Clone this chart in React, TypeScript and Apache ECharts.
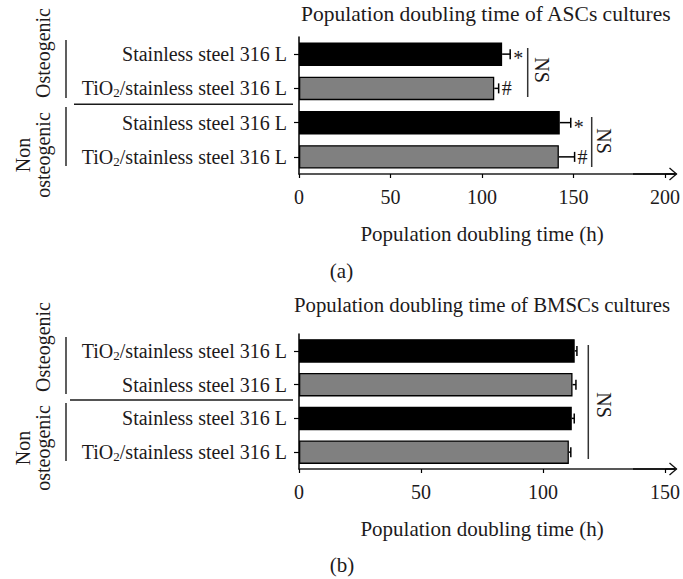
import React, { useEffect, useRef } from "react";
import * as echarts from "echarts";

// ---------- data ----------
const titleA = "Population doubling time of ASCs cultures";
const titleB = "Population doubling time of BMSCs cultures";
const axisNameX = "Population doubling time (h)";
const panelLabels = ["(a)", "(b)"];
const groupLabels = ["Osteogenic", "Non\nosteogenic"];

const categoriesA = [
  "Stainless steel 316 L",
  "TiO2/stainless steel 316 L",
  "Stainless steel 316 L",
  "TiO2/stainless steel 316 L",
];
const meansA = [111, 106.7, 142.5, 142];
const errorsA = [4.4, 2.4, 6, 8.6];
const marksA = ["*", "#", "*", "#"];
const xMaxA = 200;

const categoriesB = [
  "TiO2/stainless steel 316 L",
  "Stainless steel 316 L",
  "Stainless steel 316 L",
  "TiO2/stainless steel 316 L",
];
const meansB = [113, 112.1, 111.8, 110.6];
const errorsB = [0.9, 1.4, 1.0, 0.8];
const marksB = ["", "", "", ""];
const xMaxB = 150;
const xInterval = 50;
const nsLabel = "NS";

// ---------- styles ----------
const FONT = '"Liberation Serif", "Times New Roman", serif';
const TXT = "#1d1a1b";
const barColors = ["#000000", "#808080", "#000000", "#808080"];

function catFormatter(v: string) {
  if (v.startsWith("TiO2")) {
    return "{n|TiO}{s|2}{n|" + v.slice(4) + "}";
  }
  return "{n|" + v + "}";
}

function makeErrorRender(marks: string[]) {
  return function (params: any, api: any) {
    const mean = api.value(0);
    const idx = api.value(1);
    const err = api.value(2);
    const s = api.coord([mean, idx]);
    const e = api.coord([mean + err, idx]);
    const mark = marks[params.dataIndex] || "";
    const children: any[] = [
      {
        type: "line",
        shape: { x1: s[0], y1: s[1], x2: e[0], y2: e[1] },
        style: { stroke: "#000", lineWidth: 1.5 },
      },
      {
        type: "line",
        shape: { x1: e[0], y1: e[1] - 5, x2: e[0], y2: e[1] + 5 },
        style: { stroke: "#000", lineWidth: 1.5 },
      },
    ];
    if (mark) {
      children.push({
        type: "text",
        x: e[0] + 3,
        y: e[1] + (mark === "*" ? 4 : 0),
        style: {
          text: mark,
          fontSize: 20,
          fontFamily: FONT,
          fill: TXT,
          align: "left",
          verticalAlign: "middle",
          textAlign: "left",
          textVerticalAlign: "middle",
        },
      });
    }
    return { type: "group", children };
  };
}

function yAxisCfg(cats: string[], gridIndex: number) {
  return {
    type: "category",
    gridIndex,
    data: cats,
    inverse: true,
    axisLine: { show: true, lineStyle: { color: "#000", width: 1.5 } },
    axisTick: { show: true, alignWithLabel: true, length: 5, lineStyle: { color: "#000", width: 1.2 } },
    axisLabel: {
      margin: 12,
      formatter: catFormatter,
      rich: {
        n: { fontSize: 20, fontFamily: FONT, color: TXT, lineHeight: 22 },
        s: { fontSize: 13, fontFamily: FONT, color: TXT, lineHeight: 8, verticalAlign: "bottom" },
      },
    },
    splitLine: { show: false },
  };
}

function xAxisCfg(max: number, gridIndex: number) {
  return {
    type: "value",
    gridIndex,
    min: 0,
    max,
    interval: xInterval,
    name: axisNameX,
    nameLocation: "middle",
    nameGap: 49,
    nameTextStyle: { fontSize: 21, fontFamily: FONT, color: TXT },
    axisLine: { show: true, lineStyle: { color: "#222", width: 1.5 } },
    axisTick: { show: true, length: 4, lineStyle: { color: "#000", width: 1.2 } },
    axisLabel: { fontSize: 20, fontFamily: FONT, color: TXT, margin: 13 },
    splitLine: { show: false },
  };
}

function barSeries(means: number[], idx: number) {
  return {
    type: "bar",
    xAxisIndex: idx,
    yAxisIndex: idx,
    barWidth: 23.5,
    data: means.map((v, i) => ({
      value: v,
      itemStyle: { color: barColors[i], borderColor: "#000", borderWidth: 1.3 },
    })),
  };
}

function errSeries(means: number[], errs: number[], marks: string[], idx: number) {
  return {
    type: "custom",
    xAxisIndex: idx,
    yAxisIndex: idx,
    encode: { x: 0, y: 1 },
    data: means.map((m, i) => [m, i, errs[i]]),
    renderItem: makeErrorRender(marks),
    z: 5,
  };
}

function vline(x: number, y1: number, y2: number, color = "#4d4d4d", w = 1.8) {
  return { type: "line", shape: { x1: x, y1, x2: x, y2 }, style: { stroke: color, lineWidth: w } };
}
function hline(y: number, x1: number, x2: number, color = "#1a1a1a", w = 1.5) {
  return { type: "line", shape: { x1, y1: y, x2, y2: y }, style: { stroke: color, lineWidth: w } };
}
function txt(text: string, x: number, y: number, size: number, rotation = 0, lineHeight?: number) {
  return {
    type: "text",
    x,
    y,
    rotation,
    style: {
      text,
      fontSize: size,
      fontFamily: FONT,
      fill: TXT,
      lineHeight: lineHeight || size,
      align: "center",
      verticalAlign: "middle",
      textAlign: "center",
      textVerticalAlign: "middle",
    },
  };
}
function arrow(xTip: number, y: number) {
  return [
    hline(y, 633, xTip, "#111", 2),
    {
      type: "polyline",
      shape: { points: [[xTip - 7, y - 6], [xTip, y], [xTip - 7, y + 6]] },
      style: { stroke: "#111", lineWidth: 1.3, fill: "none" },
    },
  ];
}

export default function App() {
  const ref = useRef<HTMLDivElement>(null);
  useEffect(() => {
    if (!ref.current) return;
    const chart = echarts.init(ref.current, undefined, { renderer: "svg" });
    const option: any = {
      animation: false,
      backgroundColor: "#fff",
      title: [
        {
          text: titleA,
          left: 301,
          top: 3,
          padding: 0,
          textStyle: { fontSize: 21.5, fontFamily: FONT, fontWeight: "normal", color: TXT },
        },
        {
          text: titleB,
          left: 294,
          top: 294,
          padding: 0,
          textStyle: { fontSize: 20.8, fontFamily: FONT, fontWeight: "normal", color: TXT },
        },
      ],
      grid: [
        { left: 299, top: 37, width: 367, height: 137 },
        { left: 299, top: 334, width: 368, height: 135 },
      ],
      xAxis: [xAxisCfg(xMaxA, 0), xAxisCfg(xMaxB, 1)],
      yAxis: [yAxisCfg(categoriesA, 0), yAxisCfg(categoriesB, 1)],
      series: [
        barSeries(meansA, 0),
        errSeries(meansA, errorsA, marksA, 0),
        barSeries(meansB, 1),
        errSeries(meansB, errorsB, marksB, 1),
      ],
      graphic: [
        // panel A group brackets
        vline(66, 40, 98),
        vline(66, 107, 166),
        hline(104.3, 74, 293),
        txt(groupLabels[0], 43, 53, 20, Math.PI / 2),
        txt(groupLabels[1], 33, 155, 20, Math.PI / 2, 20),
        // panel B group brackets
        vline(66, 337, 394),
        vline(66, 403, 461),
        hline(400, 70, 293),
        txt(groupLabels[0], 43, 347, 20, Math.PI / 2),
        txt(groupLabels[1], 33, 448, 20, Math.PI / 2, 20),
        // NS annotations
        vline(527.7, 48, 97, "#333", 1.5),
        txt(nsLabel, 541.5, 70, 20, -Math.PI / 2),
        vline(591.7, 117, 167, "#333", 1.5),
        txt(nsLabel, 604, 141, 20, -Math.PI / 2),
        vline(588.3, 345, 459, "#333", 1.5),
        txt(nsLabel, 604, 405, 20, -Math.PI / 2),
        // axis arrows
        ...arrow(676.5, 174),
        ...arrow(676.5, 469),
        // panel labels
        txt(panelLabels[0], 341.5, 271, 21),
        txt(panelLabels[1], 342, 565, 21),
      ],
    };
    chart.setOption(option);
    return () => chart.dispose();
  }, []);
  return (
    <div
      ref={ref}
      style={{ position: "fixed", left: 0, top: 0, width: 683, height: 579, background: "#fff" }}
    />
  );
}
